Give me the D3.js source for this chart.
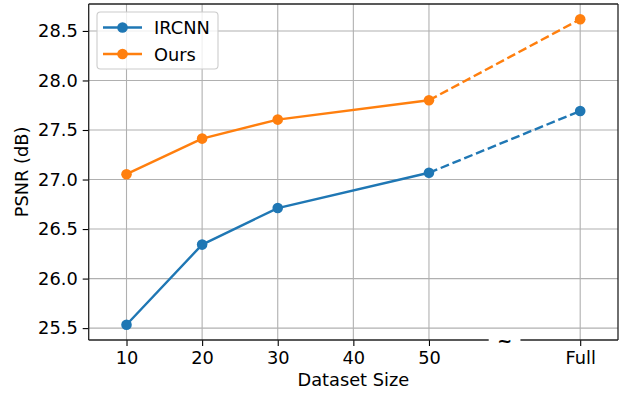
<!DOCTYPE html>
<html><head><meta charset="utf-8">
<script src="https://cdn.jsdelivr.net/npm/d3@7"></script>
<style>
html,body{margin:0;padding:0;background:#fff;}
text{font-family:"DejaVu Sans",sans-serif;}
</style></head>
<body>
<svg id="chart" width="619" height="394"></svg>
<script>
// ---- data ----
const categories = ["10", "20", "30", "50", "Full"];
const xPositions = [10, 20, 30, 50, 70];   // "Full" is placed after an axis break
const ircnn = [25.534, 26.343, 26.712, 27.068, 27.692];
const ours  = [27.054, 27.413, 27.605, 27.800, 28.618];
const xTickValues = [10, 20, 30, 40, 50, 70];
const xTickLabels = ["10", "20", "30", "40", "50", "Full"];
const yTickValues = [25.5, 26.0, 26.5, 27.0, 27.5, 28.0, 28.5];
const seriesNames = ["IRCNN", "Ours"];
const seriesColors = ["#1f77b4", "#ff7f0e"];
const breakAt = 60;

const svg = d3.select("#chart");
const W = 619, H = 394;
const m = {left: 88.7, right: 1, top: 4, bottom: 54};
const iw = W - m.left - m.right, ih = H - m.top - m.bottom;
const fs = 17.8;

const x = d3.scaleLinear().domain([5, 75]).range([m.left, m.left + iw]);
const y = d3.scaleLinear().domain([25.38, 28.772]).range([m.top + ih, m.top]);

// grid
const g = svg.append("g");
g.selectAll(".vg").data(xTickValues).enter().append("line")
  .attr("x1", d => x(d)).attr("x2", d => x(d))
  .attr("y1", m.top).attr("y2", m.top + ih)
  .attr("stroke", "#b0b0b0").attr("stroke-width", 1.1);
g.selectAll(".hg").data(yTickValues).enter().append("line")
  .attr("x1", m.left).attr("x2", m.left + iw)
  .attr("y1", d => y(d)).attr("y2", d => y(d))
  .attr("stroke", "#b0b0b0").attr("stroke-width", 1.1);

// series
const seriesData = [ircnn, ours];
seriesData.forEach((vals, si) => {
  const pts = vals.map((v, i) => [xPositions[i], v]);
  const line = d3.line().x(d => x(d[0])).y(d => y(d[1]));
  const n = pts.length;
  svg.append("path").attr("d", line(pts.slice(0, n - 1)))
    .attr("fill", "none").attr("stroke", seriesColors[si]).attr("stroke-width", 2.4)
    .attr("stroke-linejoin", "round");
  svg.append("path").attr("d", line(pts.slice(n - 2)))
    .attr("fill", "none").attr("stroke", seriesColors[si]).attr("stroke-width", 2.4)
    .attr("stroke-dasharray", "8.9,3.8");
  svg.selectAll(null).data(pts).enter().append("circle")
    .attr("cx", d => x(d[0])).attr("cy", d => y(d[1])).attr("r", 5.3)
    .attr("fill", seriesColors[si]);
});

// axes
const xAxis = d3.axisBottom(x).tickValues(xTickValues)
  .tickFormat((d, i) => xTickLabels[i]).tickSize(6).tickPadding(5);
const gx = svg.append("g").attr("transform", `translate(0,${m.top + ih})`).call(xAxis);
gx.select(".domain").remove();
gx.selectAll("text").attr("font-size", fs).attr("font-family", "DejaVu Sans").attr("fill", "#000");
gx.selectAll("line").attr("stroke", "#000").attr("stroke-width", 1.1);

const yAxis = d3.axisLeft(y).tickValues(yTickValues).tickFormat(d3.format(".1f")).tickSize(6).tickPadding(5);
const gy = svg.append("g").attr("transform", `translate(${m.left},0)`).call(yAxis);
gy.select(".domain").remove();
gy.selectAll("text").attr("font-size", fs).attr("font-family", "DejaVu Sans").attr("fill", "#000");
gy.selectAll("line").attr("stroke", "#000").attr("stroke-width", 1.1);

// spines
const sp = svg.append("g").attr("stroke", "#222").attr("stroke-width", 1.3).attr("fill", "none");
sp.append("line").attr("x1", m.left).attr("x2", m.left).attr("y1", m.top).attr("y2", m.top + ih);
sp.append("line").attr("x1", m.left + iw).attr("x2", m.left + iw).attr("y1", m.top).attr("y2", m.top + ih);
sp.append("line").attr("x1", m.left).attr("x2", m.left + iw).attr("y1", m.top).attr("y2", m.top);
sp.append("line").attr("x1", m.left).attr("x2", x(breakAt - 2.1)).attr("y1", m.top + ih).attr("y2", m.top + ih);
sp.append("line").attr("x1", x(breakAt + 2.1)).attr("x2", m.left + iw).attr("y1", m.top + ih).attr("y2", m.top + ih);
svg.append("text").attr("x", x(breakAt)).attr("y", m.top + ih + 2)
  .attr("text-anchor", "middle").attr("dominant-baseline", "middle")
  .attr("font-size", fs).attr("font-weight", "bold").text("~");

// axis labels
svg.append("text").attr("x", m.left + iw / 2).attr("y", 386)
  .attr("text-anchor", "middle").attr("font-size", fs).text("Dataset Size");
svg.append("text").attr("transform", `translate(28,${m.top + ih / 2}) rotate(-90)`)
  .attr("text-anchor", "middle").attr("font-size", fs).text("PSNR (dB)");

// legend
const lg = svg.append("g");
lg.append("rect").attr("x", 97).attr("y", 12).attr("width", 121).attr("height", 57)
  .attr("rx", 3.5).attr("fill", "#fff").attr("fill-opacity", 0.8)
  .attr("stroke", "#cccccc").attr("stroke-width", 1.1);
seriesNames.forEach((name, i) => {
  const cy = 27.5 + i * 26.5;
  lg.append("line").attr("x1", 103).attr("x2", 142).attr("y1", cy).attr("y2", cy)
    .attr("stroke", seriesColors[i]).attr("stroke-width", 2.4);
  lg.append("circle").attr("cx", 122.5).attr("cy", cy).attr("r", 5.3).attr("fill", seriesColors[i]);
  lg.append("text").attr("x", 154).attr("y", cy).attr("dominant-baseline", "central")
    .attr("font-size", fs).text(name);
});
</script>
</body></html>
